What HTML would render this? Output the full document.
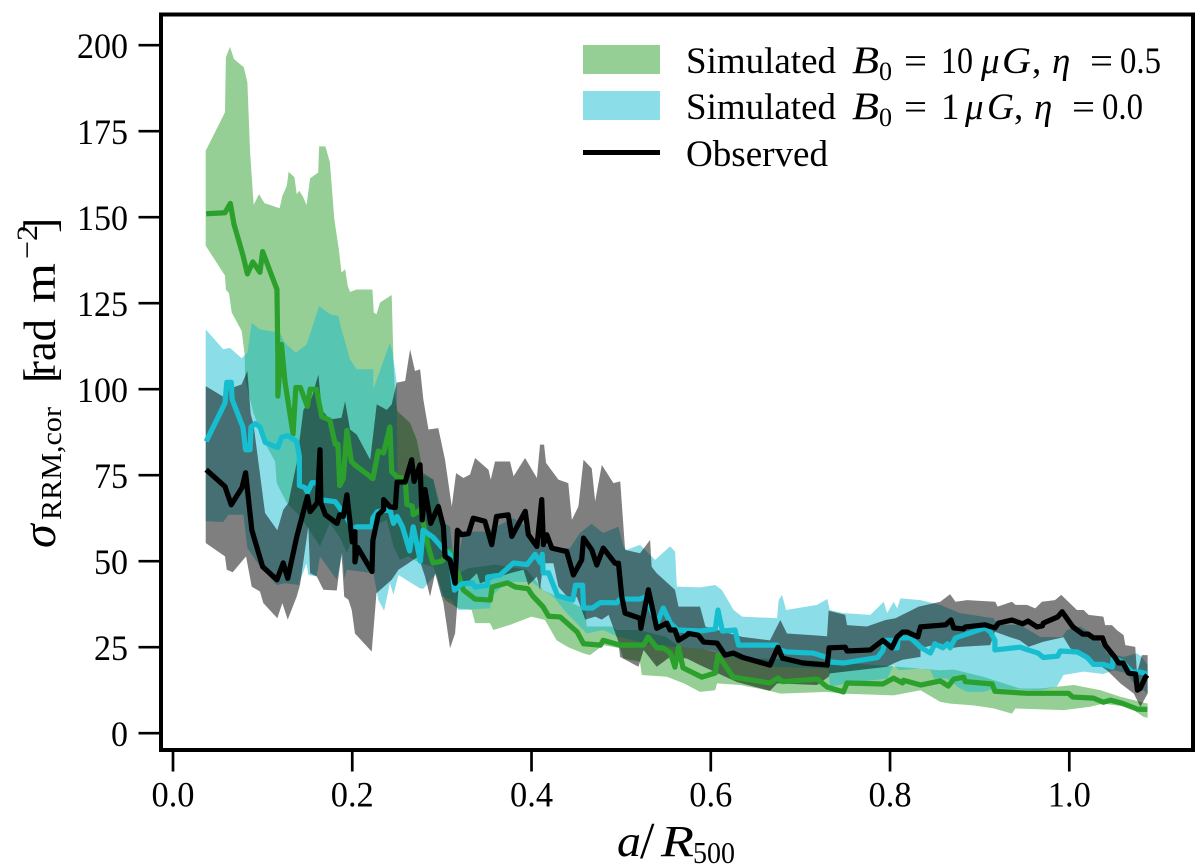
<!DOCTYPE html>
<html>
<head>
<meta charset="utf-8">
<title>RRM dispersion profile</title>
<style>
html,body{margin:0;padding:0;background:#fff;}
svg{display:block;font-family:"Liberation Serif","DejaVu Serif",serif;}
text{fill:#000;}
</style>
</head>
<body>
<svg id="chart" width="1200" height="868" viewBox="0 0 1200 868" xmlns="http://www.w3.org/2000/svg">
  <rect x="0" y="0" width="1200" height="868" fill="#fff"/>
  <g id="bands"></g>
  <g id="lines"></g>
  <g id="ticks"></g>
  <rect x="161" y="14.5" width="1032" height="735.5" fill="none" stroke="#000" stroke-width="4"/>

  <g>
    <rect x="583" y="45" width="77" height="29" fill="#2ca02c" fill-opacity="0.5"/>
    <rect x="583" y="91" width="77" height="29" fill="#17becf" fill-opacity="0.5"/>
    <line x1="583" x2="660" y1="152.5" y2="152.5" stroke="#000" stroke-width="5"/>
    <text y="73" font-size="37"><tspan x="686" textLength="150" lengthAdjust="spacingAndGlyphs">Simulated</tspan><tspan x="852" font-size="39" font-style="italic" textLength="27" lengthAdjust="spacingAndGlyphs">B</tspan><tspan x="879" y="80" font-size="26">0</tspan><tspan x="904" y="73" textLength="23" lengthAdjust="spacingAndGlyphs">=</tspan><tspan x="941" textLength="32" lengthAdjust="spacingAndGlyphs">10</tspan><tspan x="981" font-style="italic">μ</tspan><tspan x="1002" font-style="italic" textLength="29" lengthAdjust="spacingAndGlyphs">G</tspan><tspan x="1032">,</tspan><tspan x="1052" font-style="italic">η</tspan><tspan x="1090" textLength="23" lengthAdjust="spacingAndGlyphs">=</tspan><tspan x="1120" textLength="41" lengthAdjust="spacingAndGlyphs">0.5</tspan></text>
    <text y="119" font-size="37"><tspan x="686" textLength="150" lengthAdjust="spacingAndGlyphs">Simulated</tspan><tspan x="852" font-size="39" font-style="italic" textLength="27" lengthAdjust="spacingAndGlyphs">B</tspan><tspan x="879" y="126" font-size="26">0</tspan><tspan x="904" y="119" textLength="23" lengthAdjust="spacingAndGlyphs">=</tspan><tspan x="941">1</tspan><tspan x="965" font-style="italic">μ</tspan><tspan x="987" font-style="italic" textLength="27" lengthAdjust="spacingAndGlyphs">G</tspan><tspan x="1014">,</tspan><tspan x="1034" font-style="italic">η</tspan><tspan x="1072" textLength="23" lengthAdjust="spacingAndGlyphs">=</tspan><tspan x="1102" textLength="41" lengthAdjust="spacingAndGlyphs">0.0</tspan></text>
    <text x="686" y="166" font-size="37" textLength="142" lengthAdjust="spacingAndGlyphs">Observed</text>
  </g>

  <text y="856" font-size="44"><tspan x="617" font-style="italic" textLength="24" lengthAdjust="spacingAndGlyphs">a</tspan><tspan x="640" y="858" font-size="52">/</tspan><tspan x="661" y="856" font-style="italic" textLength="33" lengthAdjust="spacingAndGlyphs">R</tspan><tspan x="693" y="863" font-size="31" textLength="42" lengthAdjust="spacingAndGlyphs">500</tspan></text>

  <g transform="translate(55,548) rotate(-90)">
    <text font-size="44" y="0"><tspan x="0" font-size="48" font-style="italic">σ</tspan><tspan x="28" y="6" font-size="28" textLength="113" lengthAdjust="spacingAndGlyphs">RRM,cor</tspan><tspan x="165" y="0" font-size="46">[</tspan><tspan x="172" font-size="45" textLength="57" lengthAdjust="spacingAndGlyphs">rad</tspan><tspan x="245" font-size="45" textLength="40" lengthAdjust="spacingAndGlyphs">m</tspan><tspan x="289" y="-18" font-size="30" textLength="34" lengthAdjust="spacingAndGlyphs">−2</tspan><tspan x="315" y="0" font-size="46">]</tspan></text>
  </g>
</svg>

<script>
const xTicks = [0.0, 0.2, 0.4, 0.6, 0.8, 1.0];
const xTickLabels = ['0.0', '0.2', '0.4', '0.6', '0.8', '1.0'];
const yTicks = [0, 25, 50, 75, 100, 125, 150, 175, 200];
const yTickLabels = ['0', '25', '50', '75', '100', '125', '150', '175', '200'];

const greenMedian = [[.037,151],[.058,151.3],[.064,154],[.068,148],[.078,139],[.083,133.5],[.089,137],[.097,134],[.100,140],[.116,129],[.117,108.7],[.117,98],[.121,113],[.125,102],[.134,87],[.137,100.5],[.142,100.5],[.150,95],[.153,100],[.160,100],[.166,92],[.175,91],[.181,84],[.184,84],[.186,72],[.190,74],[.194,88],[.199,79],[.203,78],[.223,74],[.229,82],[.235,81.5],[.242,89],[.244,76],[.250,74.5],[.259,74],[.261,66.5],[.267,66],[.268,63.5],[.276,65],[.285,54],[.290,49.5],[.300,50],[.309,53],[.318,46.5],[.324,41.6],[.337,39],[.354,38.7],[.356,42.5],[.373,43.7],[.382,42.5],[.396,42],[.401,40],[.413,36.7],[.419,34],[.432,33.8],[.451,29.4],[.458,26],[.477,25.6],[.480,27],[.499,25.6],[.525,25.6],[.530,28],[.540,24.8],[.547,24.8],[.555,23.3],[.560,19.2],[.564,25],[.569,19],[.590,16.3],[.605,17.5],[.608,22.7],[.625,16.3],[.666,14.6],[.675,16],[.680,15],[.719,15.7],[.730,13.4],[.748,12],[.752,14.6],[.792,14.3],[.804,16],[.814,14.6],[.815,15.4],[.834,14],[.856,15.2],[.865,13.7],[.871,15.7],[.882,16.3],[.884,15],[.914,14.3],[.917,12.2],[.953,11.6],[.999,11.6],[1.004,10.5],[1.027,10.2],[1.038,9],[1.046,9.6],[1.059,8.7],[1.076,7],[1.087,6.9]];

const greenUpper = [[.0365,169.3],[.058,180.5],[.059,196.5],[.0636,199.5],[.068,196],[.079,193.6],[.083,189.2],[.086,168.9],[.090,153.6],[.096,156.7],[.102,154.1],[.119,152.6],[.122,156.2],[.127,159.1],[.129,163.2],[.1355,161.6],[.138,156.7],[.141,157.7],[.1455,155.7],[.149,153.5],[.153,161.3],[.162,163],[.163,170.6],[.170,170.6],[.175,166],[.180,149.4],[.185,140.7],[.188,133.9],[.192,134.9],[.195,130],[.1975,128.3],[.205,129],[.2225,129],[.224,122.3],[.227,121.8],[.231,125.2],[.244,127.4],[.246,108],[.248,97],[.2504,93.6],[.2645,90.2],[.272,85.3],[.2793,75.6],[.2905,73.7],[.2998,62],[.307,53.3],[.3184,46.5],[.33,48],[.36,49],[.3947,47.5],[.4058,44],[.413,41.6],[.428,39.7],[.44,38.5],[.46,36],[.4616,31],[.49,31],[.495,30],[.52,30],[.55,28],[.566,25],[.59,24.6],[.63,22],[.72,21],[.80,19.5],[.856,18.3],[.871,18.5],[.904,16.4],[.945,13],[.968,13],[.986,13.5],[1.005,14],[1.035,12.5],[1.057,10.6],[1.0874,8.6]];

const greenLower = [[.0365,141.7],[.058,133],[.059,129],[.0625,127.9],[.0655,122.3],[.0766,116.9],[.080,110],[.0804,103],[.0897,93.1],[.1045,83.4],[.1139,79],[.1157,72.7],[.1269,66.9],[.142,63],[.164,54.3],[.175,61],[.186,57],[.194,52.4],[.205,59.6],[.227,60.6],[.2385,62],[.246,54.3],[.2533,50.4],[.2627,51.4],[.2757,49.4],[.2905,48.4],[.3035,38.7],[.3184,36.3],[.3333,35.8],[.337,32],[.3537,32],[.3575,30],[.376,31.5],[.4,33.9],[.415,32.9],[.428,27],[.441,25],[.458,23.2],[.4653,22.7],[.48,25.6],[.4988,24.7],[.5025,21.7],[.521,20.8],[.523,16.9],[.551,16.4],[.57,14.5],[.588,12],[.605,12.5],[.607,14.5],[.633,14],[.666,12.3],[.6776,11.5],[.73,12],[.748,11.5],[.804,11],[.834,12.5],[.856,9.1],[.867,8.6],[.893,8.1],[.9155,7.2],[.936,5.7],[.94,7.2],[.994,6.7],[1.023,7.7],[1.038,8.6],[1.064,7.7],[1.072,6.7],[1.083,4.7],[1.0874,4.5]];

const cyanMedian = [[.037,84.8],[.058,96],[.060,102],[.065,102],[.066,97],[.078,89],[.081,82.4],[.086,82.4],[.087,89],[.092,90],[.097,89],[.103,84.5],[.117,83],[.121,86],[.128,86.5],[.138,84.8],[.141,80.4],[.141,72],[.147,71.4],[.150,70],[.155,72.8],[.161,72.8],[.164,67.9],[.181,67.3],[.189,64.4],[.194,62.6],[.201,59],[.205,60],[.222,60],[.223,62.6],[.228,64.4],[.242,65],[.246,61],[.250,63],[.256,60],[.264,53],[.268,60],[.276,50],[.279,59],[.290,57],[.300,54],[.309,52],[.314,41.6],[.322,43.4],[.334,43.7],[.337,42.5],[.351,43],[.351,45.4],[.365,46],[.380,49.5],[.395,49],[.404,52],[.410,49.5],[.412,52],[.413,46.6],[.419,46.6],[.429,40],[.446,38.7],[.449,43],[.457,43],[.458,36.4],[.468,36.4],[.477,38],[.495,37.9],[.499,39],[.521,39],[.527,39.6],[.540,32],[.547,36.4],[.555,32],[.563,30],[.588,29.7],[.605,30.3],[.608,35.8],[.613,29.7],[.627,30],[.631,25.6],[.674,25.6],[.677,24.2],[.685,23.6],[.714,23.3],[.730,22],[.733,20.7],[.748,20.4],[.786,22],[.792,24],[.795,27],[.802,27],[.804,24.8],[.808,24.8],[.809,27.7],[.823,27.7],[.834,25],[.845,23.3],[.850,26],[.859,24.8],[.864,26],[.867,24.8],[.873,27.7],[.882,28.5],[.906,30.6],[.912,29.4],[.917,27],[.917,24.2],[.945,25],[.954,24.2],[.965,23.3],[.971,22],[.987,22.4],[.990,23.9],[1.009,23.6],[1.020,22],[1.027,20],[1.038,20],[1.048,19.2],[1.049,22],[1.059,20.7],[1.070,17.8],[1.079,17.8],[1.087,17.2]];

const cyanUpper = [[.0365,117.4],[.056,111.6],[.0636,112],[.0766,109],[.0804,110],[.083,110.6],[.0878,119.3],[.097,117.4],[.119,116.4],[.125,113.5],[.137,110.6],[.149,113],[.163,124.2],[.175,121.8],[.1845,121.3],[.188,117.4],[.1975,108.7],[.205,105.8],[.2235,105.8],[.2235,100],[.242,113.5],[.245,110.6],[.2496,101.9],[.2505,75],[.2607,74.7],[.279,75],[.2905,73.7],[.3035,61],[.3091,60],[.3147,46.5],[.324,58.6],[.35,58.6],[.365,60.6],[.38,62.5],[.391,60.6],[.402,56],[.4244,53.8],[.443,53.8],[.454,58.2],[.467,60.9],[.48,58.2],[.497,60],[.5025,54.3],[.5063,53.3],[.5211,54.8],[.5379,50.4],[.5546,54.3],[.5602,52.8],[.5621,42.6],[.5881,42.4],[.605,43.1],[.6125,41.6],[.6255,35.8],[.635,33.9],[.674,33.4],[.6757,38.7],[.6795,40.2],[.684,35.8],[.7185,37.3],[.73,39],[.7327,35.8],[.748,34.9],[.778,34.4],[.793,38.2],[.7967,34.9],[.804,38.2],[.808,36.3],[.8116,39.2],[.834,38.7],[.856,37.3],[.878,34.9],[.9155,33.4],[.92,31.5],[.945,31.5],[.9676,28],[.992,27.9],[.9974,30],[1.012,31],[1.031,28],[1.042,23.2],[1.0606,22.2],[1.0755,23.2],[1.081,22.2],[1.0874,19.8]];

const cyanLower = [[.0365,61.6],[.0562,61.4],[.0618,63.5],[.0785,63.5],[.083,53.8],[.097,48.5],[.1157,43.1],[.125,43.6],[.14,43.1],[.149,49.4],[.151,46],[.1603,45.6],[.164,51.4],[.1827,44.6],[.1894,52.4],[.191,45],[.194,47.5],[.2236,46.5],[.229,38.8],[.2355,35.6],[.242,43.6],[.246,40.2],[.2515,46],[.2756,42.1],[.2793,42],[.294,46.5],[.2998,39.7],[.31,39],[.3184,35.8],[.3537,36.3],[.3556,39.7],[.3723,44],[.40,44],[.413,41.6],[.4244,39.7],[.4393,34.9],[.4616,29],[.48,30],[.4968,28],[.5,27.9],[.5286,26],[.562,25],[.588,24.6],[.603,24],[.633,21.3],[.666,19.3],[.7315,18.8],[.733,13.5],[.752,14.5],[.797,15.9],[.804,19.8],[.81,18.3],[.834,18.8],[.845,18.3],[.849,15.9],[.8636,15.9],[.878,13],[.886,12],[.904,12],[.917,13],[.9676,12.5],[.986,13.5],[.9936,16.9],[1.016,17.9],[1.038,17.2],[1.05,18.3],[1.064,17.4],[1.072,14.5],[1.0874,11.5]];

const observedMedian = [[.037,76.6],[.058,71.7],[.065,66.4],[.077,71.4],[.081,75.7],[.088,59],[.100,48.4],[.116,44.6],[.123,49.5],[.128,45],[.138,57],[.141,60],[.150,68.8],[.153,64.4],[.161,67],[.164,82.4],[.165,67],[.170,63.5],[.183,61],[.186,63.5],[.190,63],[.194,69.3],[.200,55.6],[.203,58.6],[.203,49.8],[.206,54],[.222,47],[.223,56],[.229,63.5],[.235,65],[.235,67.9],[.242,65.8],[.248,65.6],[.250,73],[.259,73],[.2663,79.5],[.269,73.2],[.2756,78],[.278,62],[.2812,70.8],[.2875,61],[.296,65.9],[.3017,60],[.3035,51.4],[.309,50.4],[.3147,43.6],[.3173,59],[.322,57.7],[.3296,58],[.335,62.5],[.348,61.6],[.3556,54.8],[.361,63],[.374,63.5],[.378,57.2],[.393,64.5],[.3965,57.7],[.406,54.3],[.4114,67.9],[.4133,54.8],[.417,57.7],[.4226,53.8],[.4393,52.8],[.4467,46],[.456,50.4],[.458,56.7],[.4672,53.3],[.4728,48.9],[.48,53.8],[.4932,49.4],[.497,49.4],[.5007,39.7],[.5044,34.9],[.5211,33.4],[.522,30.5],[.5304,41.7],[.5397,30.5],[.551,32],[.5546,30],[.56,30],[.564,27],[.5733,28.5],[.575,29],[.586,28.5],[.592,26.5],[.607,26.2],[.616,22.7],[.625,23.3],[.636,22],[.666,19.8],[.675,25],[.680,21.8],[.703,20.4],[.730,19.8],[.732,24.8],[.750,25],[.752,23.9],[.778,24.2],[.792,27],[.802,24.8],[.808,28],[.814,29.4],[.819,29.4],[.831,28],[.834,30.9],[.862,31.5],[.868,32.9],[.871,30.6],[.882,30.3],[.884,30.9],[.906,31.5],[.917,30.6],[.921,32],[.936,32.9],[.948,31.8],[.954,32.6],[.964,30.9],[.970,31.2],[.971,32],[.987,33.8],[.992,35.3],[1.004,30.9],[1.015,28.8],[1.021,28.8],[1.027,27.7],[1.037,27.7],[1.040,25.6],[1.051,22],[1.055,20.4],[1.060,20.4],[1.066,17.5],[1.074,17.2],[1.076,12.5],[1.079,13],[1.085,16.3],[1.087,16.9]];

const observedUpper = [[.0365,100.9],[.058,97.5],[.0618,100],[.0766,101.4],[.083,105.3],[.0867,92.7],[.0897,90],[.1027,64],[.1164,59],[.1231,65],[.1287,66.9],[.138,78.6],[.1455,94],[.1548,97.5],[.1622,104.3],[.166,94],[.175,91.2],[.188,91.7],[.192,96.5],[.1975,88.3],[.205,86.8],[.22,79.5],[.2273,95.6],[.2385,94],[.244,95.6],[.2496,101.9],[.259,102.4],[.2645,111.6],[.27,105.3],[.2757,105.8],[.2793,97],[.285,88.3],[.296,88.7],[.3035,79.5],[.311,65.9],[.3158,75.6],[.324,74.2],[.3314,75.2],[.337,80],[.352,76.6],[.3545,73.7],[.3593,79],[.376,79],[.38,74.7],[.3928,80],[.406,74.2],[.4095,83.9],[.414,83.9],[.4162,78.6],[.43,73.7],[.441,72.7],[.445,62],[.4523,65.9],[.458,79.5],[.4672,77],[.471,67.4],[.4784,78],[.4914,72.7],[.499,73.2],[.5044,53.3],[.5211,52.3],[.5323,56.2],[.534,48.4],[.5397,46.5],[.56,41.7],[.564,36.8],[.588,36.8],[.594,31],[.635,28],[.666,27],[.6776,32.9],[.685,29],[.7297,28.2],[.7315,35.6],[.75,34.4],[.752,31.4],[.774,31],[.795,32.9],[.806,33.4],[.832,36.8],[.856,38.2],[.867,40.4],[.873,38.2],[.886,38.7],[.9174,38.2],[.92,36.8],[.936,38.2],[.94,37.3],[.9527,37.3],[.962,36.3],[.9695,38.2],[.984,38.7],[.991,40.2],[1.0085,35.8],[1.016,35.8],[1.0215,34.4],[1.038,33.9],[1.04,31.4],[1.0476,31.4],[1.053,30],[1.0606,28.5],[1.0625,25.6],[1.0736,25.1],[1.0755,17.4],[1.081,22.7],[1.0874,22.7]];

const observedLower = [[.0365,55.3],[.058,51.4],[.06,47.5],[.0666,46.8],[.0815,51.4],[.0878,42.6],[.097,41.2],[.1008,37.8],[.1164,33.4],[.122,37.8],[.128,33],[.138,39.7],[.1417,43.1],[.151,60.1],[.153,46.5],[.1603,45.6],[.1678,41.7],[.1827,41.5],[.188,52.4],[.191,39.7],[.1957,38.8],[.1994,35.8],[.203,29],[.2217,23.7],[.227,40.7],[.244,44.6],[.2515,47.5],[.2626,49.4],[.2738,51.4],[.2812,45.5],[.2868,39.7],[.2924,46.5],[.3017,37.8],[.3091,24.7],[.3147,29],[.3184,41.7],[.324,42.6],[.339,46.5],[.3426,43.6],[.3537,44.6],[.376,46.5],[.391,47.5],[.3965,43],[.406,45.5],[.4095,41.6],[.413,49.4],[.4244,49.4],[.43,42.6],[.443,38.7],[.4505,39.7],[.46,33],[.471,33.9],[.4784,33],[.486,34.4],[.497,26.6],[.4988,22.2],[.5193,19.3],[.525,24.2],[.5397,19.3],[.5546,22.2],[.5733,21.7],[.588,19.8],[.629,14.9],[.666,12.3],[.674,14.5],[.7185,14],[.7315,16.4],[.733,17.4],[.7967,19.3],[.804,20.3],[.8134,21.3],[.834,22.2],[.834,24.7],[.856,26.1],[.867,24.7],[.878,25.1],[.9118,25.6],[.917,29.5],[.934,27.9],[.945,27],[.9546,25.1],[.971,26.6],[.9936,27.9],[1.001,24.7],[1.02,22.2],[1.042,18.3],[1.057,14.5],[1.072,11.5],[1.0793,7.7],[1.0874,11.5]];

const SVG_NS = 'http://www.w3.org/2000/svg';
const xOrigin = 173;
const xPerUnit = 896.3;
const yOrigin = 733.2;
const yPerUnit = 3.44;

function xScale(v) { return xOrigin + v * xPerUnit; }
function yScale(v) { return yOrigin - v * yPerUnit; }
function pointText(p) { return xScale(p[0]).toFixed(2) + ',' + yScale(p[1]).toFixed(2); }

function bandPath(upper, lower) {
  const top = upper.map(pointText);
  const bottom = lower.slice().reverse().map(pointText);
  return 'M' + top.concat(bottom).join('L') + 'Z';
}
function linePath(series) {
  return 'M' + series.map(pointText).join('L');
}

const bandsLayer = document.getElementById('bands');
const linesLayer = document.getElementById('lines');
const ticksLayer = document.getElementById('ticks');
const svgRoot = document.getElementById('chart');

const gBand = document.createElementNS(SVG_NS, 'path');


gBand.setAttribute('d', bandPath(greenUpper, greenLower));
gBand.setAttribute('fill', '#2ca02c');
gBand.setAttribute('fill-opacity', '0.5');
bandsLayer.appendChild(gBand);

const cBand = document.createElementNS(SVG_NS, 'path');


cBand.setAttribute('d', bandPath(cyanUpper, cyanLower));
cBand.setAttribute('fill', '#17becf');
cBand.setAttribute('fill-opacity', '0.5');
bandsLayer.appendChild(cBand);

const oBand = document.createElementNS(SVG_NS, 'path');


oBand.setAttribute('d', bandPath(observedUpper, observedLower));
oBand.setAttribute('fill', '#000');
oBand.setAttribute('fill-opacity', '0.5');
bandsLayer.appendChild(oBand);

const gLine = document.createElementNS(SVG_NS, 'path');


gLine.setAttribute('d', linePath(greenMedian));
gLine.setAttribute('stroke', '#2ca02c');
linesLayer.appendChild(gLine);

const cLine = document.createElementNS(SVG_NS, 'path');


cLine.setAttribute('d', linePath(cyanMedian));
cLine.setAttribute('stroke', '#17becf');
linesLayer.appendChild(cLine);

const oLine = document.createElementNS(SVG_NS, 'path');


oLine.setAttribute('d', linePath(observedMedian));
oLine.setAttribute('stroke', '#000');
linesLayer.appendChild(oLine);

[gLine, cLine, oLine].forEach(function (l) {
  l.setAttribute('fill', 'none');
  l.setAttribute('stroke-width', '5.2');
  l.setAttribute('stroke-linejoin', 'round');
});

xTicks.forEach(function (v, i) {
  const t = document.createElementNS(SVG_NS, 'line');
  
  
  t.setAttribute('x1', xScale(v));
  t.setAttribute('x2', xScale(v));
  t.setAttribute('y1', 750);
  t.setAttribute('y2', 771.5);
  t.setAttribute('stroke', '#000');
  t.setAttribute('stroke-width', '2.7');
  ticksLayer.appendChild(t);
  const lab = document.createElementNS(SVG_NS, 'text');
  
  
  lab.setAttribute('x', xScale(v) - 21.5);
  lab.setAttribute('y', 806.5);
  lab.setAttribute('font-size', '36');
  lab.setAttribute('textLength', '43');
  lab.setAttribute('lengthAdjust', 'spacingAndGlyphs');
  lab.textContent = xTickLabels[i];
  svgRoot.appendChild(lab);
});

yTicks.forEach(function (v, i) {
  const t = document.createElementNS(SVG_NS, 'line');
  
  
  t.setAttribute('x1', 138.5);
  t.setAttribute('x2', 161);
  t.setAttribute('y1', yScale(v));
  t.setAttribute('y2', yScale(v));
  t.setAttribute('stroke', '#000');
  t.setAttribute('stroke-width', '2.7');
  ticksLayer.appendChild(t);
  const lab = document.createElementNS(SVG_NS, 'text');
  
  
  const w = 17 * yTickLabels[i].length;
  lab.setAttribute('x', 128 - w);
  lab.setAttribute('y', yScale(v) + 13);
  lab.setAttribute('font-size', '36');
  lab.setAttribute('textLength', String(w));
  lab.setAttribute('lengthAdjust', 'spacingAndGlyphs');
  lab.textContent = yTickLabels[i];
  svgRoot.appendChild(lab);
});
</script>
</body>
</html>
